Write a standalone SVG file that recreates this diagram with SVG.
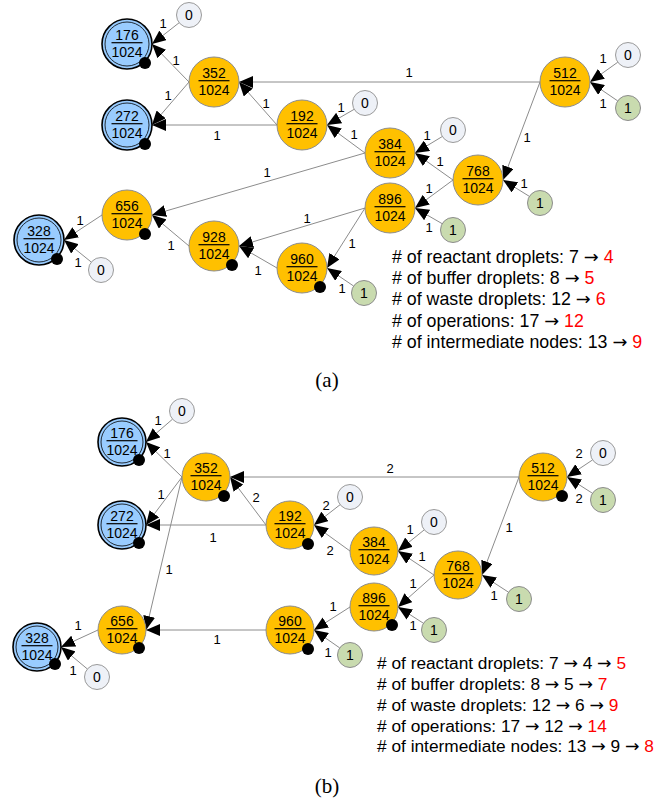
<svg xmlns="http://www.w3.org/2000/svg" width="665" height="802" viewBox="0 0 665 802">
<style>
.e{stroke:#8c8c8c;stroke-width:1;fill:none;marker-end:url(#ah)}
.lb{font-family:"Liberation Sans",Arial,sans-serif;font-size:13px;fill:#000;text-anchor:middle}
.or{fill:#FFC000;stroke:#8c8c8c;stroke-width:1}
.bl{fill:#99CCFF;stroke:#000;stroke-width:1.6}
.bi{fill:none;stroke:#000;stroke-width:0.8}
.z{fill:#EEF1F7;stroke:#9a9a9a;stroke-width:1}
.g{fill:#C9DBAF;stroke:#8c8c8c;stroke-width:1}
.nt{font-family:"Liberation Sans",Arial,sans-serif;font-size:14px;fill:#000;text-anchor:middle}
.fl{stroke:#000;stroke-width:1.2}
.dot{fill:#000}
.ta{font-family:"Liberation Sans",Arial,sans-serif;font-size:17.8px;fill:#000}
.tbb{font-family:"Liberation Sans",Arial,sans-serif;font-size:17.3px;fill:#000}
.ar{font-family:"DejaVu Sans",sans-serif}
.red{fill:#FF0000}
.cap{font-family:"Liberation Serif","Times New Roman",serif;font-size:21px;fill:#000;text-anchor:middle}
</style>
<defs>
<marker id="ah" viewBox="0 0 14 12" refX="14" refY="6" markerWidth="14" markerHeight="12" markerUnits="userSpaceOnUse" orient="auto">
<path d="M0,0 L14,6 L0,12 z" fill="#000"/>
</marker>
</defs>

<!-- ===== (a) connectors ===== -->
<g id="edges-a">
<line class="e" x1="179.2" y1="22.7" x2="152" y2="44"/>
<line class="e" x1="189" y1="82" x2="152" y2="44"/>
<line class="e" x1="189" y1="82" x2="152" y2="125"/>
<line class="e" x1="277" y1="125" x2="152" y2="125"/>
<line class="e" x1="277" y1="125" x2="239" y2="82"/>
<line class="e" x1="540" y1="82" x2="239" y2="82"/>
<line class="e" x1="617.8" y1="62.2" x2="590" y2="82"/>
<line class="e" x1="617.7" y1="100.9" x2="590" y2="82"/>
<line class="e" x1="540" y1="82" x2="503" y2="180"/>
<line class="e" x1="354.2" y1="109.3" x2="327" y2="125"/>
<line class="e" x1="365" y1="153" x2="327" y2="125"/>
<line class="e" x1="442.3" y1="136.5" x2="415" y2="153"/>
<line class="e" x1="453" y1="180" x2="415" y2="153"/>
<line class="e" x1="365" y1="153" x2="152" y2="215"/>
<line class="e" x1="453" y1="180" x2="415" y2="208"/>
<line class="e" x1="529.4" y1="196.4" x2="503" y2="180"/>
<line class="e" x1="442.2" y1="223.7" x2="415" y2="208"/>
<line class="e" x1="365" y1="208" x2="239" y2="246"/>
<line class="e" x1="365" y1="208" x2="327" y2="268"/>
<line class="e" x1="353.6" y1="286" x2="327" y2="268"/>
<line class="e" x1="277" y1="268" x2="239" y2="246"/>
<line class="e" x1="189" y1="246" x2="152" y2="215"/>
<line class="e" x1="102" y1="215" x2="64" y2="240"/>
<line class="e" x1="91.3" y1="262.1" x2="64" y2="240"/>
<g class="lb">
<text x="163" y="27.5">1</text><text x="176" y="64.5">1</text><text x="168" y="99.5">1</text>
<text x="217" y="139.5">1</text><text x="266" y="107.5">1</text><text x="409" y="76.5">1</text>
<text x="603" y="62.5">1</text><text x="603" y="107.5">1</text><text x="527" y="141.5">1</text>
<text x="341" y="111.5">1</text><text x="354" y="138.5">1</text><text x="427" y="139.5">1</text>
<text x="440" y="165.5">1</text><text x="267" y="176.5">1</text><text x="429" y="192.5">1</text>
<text x="524" y="187.5">1</text><text x="429" y="231.5">1</text><text x="307" y="222.5">1</text>
<text x="352" y="247.5">1</text><text x="342" y="292.5">1</text><text x="258" y="274.5">1</text>
<text x="171" y="249.5">1</text><text x="80" y="224.5">1</text><text x="78" y="266.5">1</text>
</g>
</g>

<!-- ===== (a) nodes ===== -->
<g id="a176"><circle class="bl" cx="127" cy="44" r="25"/><circle class="bi" cx="127" cy="44" r="22"/><text class="nt" x="127" y="39.5">176</text><line class="fl" x1="111.5" y1="42.7" x2="142.5" y2="42.7"/><text class="nt" x="127" y="56.7">1024</text><circle class="dot" cx="145" cy="63" r="6"/></g>
<g id="a272"><circle class="bl" cx="127" cy="125" r="25"/><circle class="bi" cx="127" cy="125" r="22"/><text class="nt" x="127" y="120.5">272</text><line class="fl" x1="111.5" y1="123.7" x2="142.5" y2="123.7"/><text class="nt" x="127" y="137.7">1024</text><circle class="dot" cx="145" cy="144" r="6"/></g>
<g id="a328"><circle class="bl" cx="39" cy="240" r="25"/><circle class="bi" cx="39" cy="240" r="22"/><text class="nt" x="39" y="235.5">328</text><line class="fl" x1="23.5" y1="238.7" x2="54.5" y2="238.7"/><text class="nt" x="39" y="252.7">1024</text><circle class="dot" cx="57" cy="259" r="6"/></g>
<g id="a352"><circle class="or" cx="214" cy="82" r="25"/><text class="nt" x="214" y="77.5">352</text><line class="fl" x1="198.5" y1="80.7" x2="229.5" y2="80.7"/><text class="nt" x="214" y="94.7">1024</text></g>
<g id="a192"><circle class="or" cx="302" cy="125" r="25"/><text class="nt" x="302" y="120.5">192</text><line class="fl" x1="286.5" y1="123.7" x2="317.5" y2="123.7"/><text class="nt" x="302" y="137.7">1024</text></g>
<g id="a512"><circle class="or" cx="565" cy="82" r="25"/><text class="nt" x="565" y="77.5">512</text><line class="fl" x1="549.5" y1="80.7" x2="580.5" y2="80.7"/><text class="nt" x="565" y="94.7">1024</text></g>
<g id="a384"><circle class="or" cx="390" cy="153" r="25"/><text class="nt" x="390" y="148.5">384</text><line class="fl" x1="374.5" y1="151.7" x2="405.5" y2="151.7"/><text class="nt" x="390" y="165.7">1024</text></g>
<g id="a768"><circle class="or" cx="478" cy="180" r="25"/><text class="nt" x="478" y="175.5">768</text><line class="fl" x1="462.5" y1="178.7" x2="493.5" y2="178.7"/><text class="nt" x="478" y="192.7">1024</text></g>
<g id="a896"><circle class="or" cx="390" cy="208" r="25"/><text class="nt" x="390" y="203.5">896</text><line class="fl" x1="374.5" y1="206.7" x2="405.5" y2="206.7"/><text class="nt" x="390" y="220.7">1024</text></g>
<g id="a960"><circle class="or" cx="302" cy="268" r="25"/><text class="nt" x="302" y="263.5">960</text><line class="fl" x1="286.5" y1="266.7" x2="317.5" y2="266.7"/><text class="nt" x="302" y="280.7">1024</text><circle class="dot" cx="320" cy="287" r="6"/></g>
<g id="a928"><circle class="or" cx="214" cy="246" r="25"/><text class="nt" x="214" y="241.5">928</text><line class="fl" x1="198.5" y1="244.7" x2="229.5" y2="244.7"/><text class="nt" x="214" y="258.7">1024</text><circle class="dot" cx="232" cy="265" r="6"/></g>
<g id="a656"><circle class="or" cx="127" cy="215" r="25"/><text class="nt" x="127" y="210.5">656</text><line class="fl" x1="111.5" y1="213.7" x2="142.5" y2="213.7"/><text class="nt" x="127" y="227.7">1024</text><circle class="dot" cx="145" cy="234" r="6"/></g>
<g id="a-s1"><circle class="z" cx="189" cy="15" r="12.5"/><text class="nt" x="189" y="20">0</text></g>
<g id="a-s2"><circle class="z" cx="365" cy="103" r="12.5"/><text class="nt" x="365" y="108">0</text></g>
<g id="a-s3"><circle class="z" cx="628" cy="55" r="12.5"/><text class="nt" x="628" y="60">0</text></g>
<g id="a-s4"><circle class="g" cx="628" cy="108" r="12.5"/><text class="nt" x="628" y="113">1</text></g>
<g id="a-s5"><circle class="z" cx="453" cy="130" r="12.5"/><text class="nt" x="453" y="135">0</text></g>
<g id="a-s6"><circle class="g" cx="540" cy="203" r="12.5"/><text class="nt" x="540" y="208">1</text></g>
<g id="a-s7"><circle class="g" cx="453" cy="230" r="12.5"/><text class="nt" x="453" y="235">1</text></g>
<g id="a-s8"><circle class="g" cx="364" cy="293" r="12.5"/><text class="nt" x="364" y="298">1</text></g>
<g id="a-s9"><circle class="z" cx="101" cy="270" r="12.5"/><text class="nt" x="101" y="275">0</text></g>

<g id="stats-a" class="ta">
<text x="392" y="263"># of reactant droplets: 7 <tspan class="ar">→</tspan> <tspan class="red">4</tspan></text>
<text x="392" y="284"># of buffer droplets: 8 <tspan class="ar">→</tspan> <tspan class="red">5</tspan></text>
<text x="392" y="305"># of waste droplets: 12 <tspan class="ar">→</tspan> <tspan class="red">6</tspan></text>
<text x="392" y="327"># of operations: 17 <tspan class="ar">→</tspan> <tspan class="red">12</tspan></text>
<text x="392" y="348"># of intermediate nodes: 13 <tspan class="ar">→</tspan> <tspan class="red">9</tspan></text>
</g>
<text class="cap" x="327" y="387">(a)</text>

<!-- ===== (b) connectors ===== -->
<g id="edges-b">
<line class="e" x1="172.5" y1="419.2" x2="146" y2="442"/>
<line class="e" x1="182" y1="477" x2="146" y2="442"/>
<line class="e" x1="182" y1="477" x2="146" y2="525"/>
<line class="e" x1="182" y1="477" x2="146" y2="630"/>
<line class="e" x1="266" y1="525" x2="146" y2="525"/>
<line class="e" x1="266" y1="525" x2="230" y2="477"/>
<line class="e" x1="519" y1="477" x2="230" y2="477"/>
<line class="e" x1="592.6" y1="459.9" x2="567" y2="477"/>
<line class="e" x1="592.5" y1="493.3" x2="567" y2="477"/>
<line class="e" x1="519" y1="477" x2="482" y2="575"/>
<line class="e" x1="340.1" y1="504.7" x2="314" y2="525"/>
<line class="e" x1="350" y1="551" x2="314" y2="525"/>
<line class="e" x1="424.3" y1="529.8" x2="398" y2="551"/>
<line class="e" x1="434" y1="575" x2="398" y2="551"/>
<line class="e" x1="434" y1="575" x2="398" y2="607"/>
<line class="e" x1="508.5" y1="592.2" x2="482" y2="575"/>
<line class="e" x1="423.5" y1="623.3" x2="398" y2="607"/>
<line class="e" x1="350" y1="607" x2="314" y2="630"/>
<line class="e" x1="339.7" y1="647.9" x2="314" y2="630"/>
<line class="e" x1="266" y1="630" x2="146" y2="630"/>
<line class="e" x1="98" y1="630" x2="61" y2="647"/>
<line class="e" x1="87.4" y1="669" x2="61" y2="647"/>
<g class="lb">
<text x="158" y="424.5">1</text><text x="167" y="457.5">1</text><text x="161" y="498.5">1</text>
<text x="169" y="573.5">1</text><text x="213" y="541.5">1</text><text x="256" y="501.5">2</text>
<text x="390" y="472.5">2</text><text x="579" y="457.5">2</text><text x="579" y="502.5">2</text>
<text x="509" y="531.5">1</text><text x="326" y="509.5">2</text><text x="330" y="554.5">2</text>
<text x="410" y="533.5">1</text><text x="422" y="560.5">1</text><text x="413" y="587.5">1</text>
<text x="494" y="599.5">1</text><text x="413" y="629.5">1</text><text x="333" y="610.5">1</text>
<text x="328" y="656.5">1</text><text x="217" y="643.5">1</text><text x="78" y="629.5">1</text>
<text x="73" y="674.5">1</text>
</g>
</g>

<!-- ===== (b) nodes ===== -->
<g id="b176"><circle class="bl" cx="122" cy="442" r="24"/><circle class="bi" cx="122" cy="442" r="21"/><text class="nt" x="122" y="437.5">176</text><line class="fl" x1="106.5" y1="440.7" x2="137.5" y2="440.7"/><text class="nt" x="122" y="454.7">1024</text><circle class="dot" cx="139" cy="460" r="6"/></g>
<g id="b272"><circle class="bl" cx="122" cy="525" r="24"/><circle class="bi" cx="122" cy="525" r="21"/><text class="nt" x="122" y="520.5">272</text><line class="fl" x1="106.5" y1="523.7" x2="137.5" y2="523.7"/><text class="nt" x="122" y="537.7">1024</text><circle class="dot" cx="139" cy="543" r="6"/></g>
<g id="b328"><circle class="bl" cx="37" cy="647" r="24"/><circle class="bi" cx="37" cy="647" r="21"/><text class="nt" x="37" y="642.5">328</text><line class="fl" x1="21.5" y1="645.7" x2="52.5" y2="645.7"/><text class="nt" x="37" y="659.7">1024</text><circle class="dot" cx="55" cy="664" r="6"/></g>
<g id="b352"><circle class="or" cx="206" cy="477" r="24"/><text class="nt" x="206" y="472.5">352</text><line class="fl" x1="190.5" y1="475.7" x2="221.5" y2="475.7"/><text class="nt" x="206" y="489.7">1024</text><circle class="dot" cx="224" cy="496" r="6"/></g>
<g id="b192"><circle class="or" cx="290" cy="525" r="24"/><text class="nt" x="290" y="520.5">192</text><line class="fl" x1="274.5" y1="523.7" x2="305.5" y2="523.7"/><text class="nt" x="290" y="537.7">1024</text><circle class="dot" cx="308" cy="544" r="6"/></g>
<g id="b512"><circle class="or" cx="543" cy="477" r="24"/><text class="nt" x="543" y="472.5">512</text><line class="fl" x1="527.5" y1="475.7" x2="558.5" y2="475.7"/><text class="nt" x="543" y="489.7">1024</text><circle class="dot" cx="562" cy="496" r="6"/></g>
<g id="b384"><circle class="or" cx="374" cy="551" r="24"/><text class="nt" x="374" y="546.5">384</text><line class="fl" x1="358.5" y1="549.7" x2="389.5" y2="549.7"/><text class="nt" x="374" y="563.7">1024</text></g>
<g id="b768"><circle class="or" cx="458" cy="575" r="24"/><text class="nt" x="458" y="570.5">768</text><line class="fl" x1="442.5" y1="573.7" x2="473.5" y2="573.7"/><text class="nt" x="458" y="587.7">1024</text></g>
<g id="b896"><circle class="or" cx="374" cy="607" r="24"/><text class="nt" x="374" y="602.5">896</text><line class="fl" x1="358.5" y1="605.7" x2="389.5" y2="605.7"/><text class="nt" x="374" y="619.7">1024</text><circle class="dot" cx="392" cy="625" r="6"/></g>
<g id="b960"><circle class="or" cx="290" cy="630" r="24"/><text class="nt" x="290" y="625.5">960</text><line class="fl" x1="274.5" y1="628.7" x2="305.5" y2="628.7"/><text class="nt" x="290" y="642.7">1024</text><circle class="dot" cx="308" cy="649" r="6"/></g>
<g id="b656"><circle class="or" cx="122" cy="630" r="24"/><text class="nt" x="122" y="625.5">656</text><line class="fl" x1="106.5" y1="628.7" x2="137.5" y2="628.7"/><text class="nt" x="122" y="642.7">1024</text><circle class="dot" cx="139" cy="648" r="6"/></g>
<g id="b-s1"><circle class="z" cx="182" cy="411" r="12.5"/><text class="nt" x="182" y="416">0</text></g>
<g id="b-s2"><circle class="z" cx="603" cy="453" r="12.5"/><text class="nt" x="603" y="458">0</text></g>
<g id="b-s3"><circle class="g" cx="603" cy="500" r="12.5"/><text class="nt" x="603" y="505">1</text></g>
<g id="b-s4"><circle class="z" cx="350" cy="497" r="12.5"/><text class="nt" x="350" y="502">0</text></g>
<g id="b-s5"><circle class="z" cx="434" cy="522" r="12.5"/><text class="nt" x="434" y="527">0</text></g>
<g id="b-s6"><circle class="g" cx="519" cy="599" r="12.5"/><text class="nt" x="519" y="604">1</text></g>
<g id="b-s7"><circle class="g" cx="434" cy="630" r="12.5"/><text class="nt" x="434" y="635">1</text></g>
<g id="b-s8"><circle class="g" cx="350" cy="655" r="12.5"/><text class="nt" x="350" y="660">1</text></g>
<g id="b-s9"><circle class="z" cx="97" cy="677" r="12.5"/><text class="nt" x="97" y="682">0</text></g>

<g id="stats-b" class="tbb">
<text x="377" y="669"># of reactant droplets: 7 <tspan class="ar">→</tspan> 4 <tspan class="ar">→</tspan> <tspan class="red">5</tspan></text>
<text x="377" y="690"># of buffer droplets: 8 <tspan class="ar">→</tspan> 5 <tspan class="ar">→</tspan> <tspan class="red">7</tspan></text>
<text x="377" y="711"># of waste droplets: 12 <tspan class="ar">→</tspan> 6 <tspan class="ar">→</tspan> <tspan class="red">9</tspan></text>
<text x="377" y="732"># of operations: 17 <tspan class="ar">→</tspan> 12 <tspan class="ar">→</tspan> <tspan class="red">14</tspan></text>
<text x="377" y="752"># of intermediate nodes: 13 <tspan class="ar">→</tspan> 9 <tspan class="ar">→</tspan> <tspan class="red">8</tspan></text>
</g>
<text class="cap" x="327" y="793">(b)</text>
</svg>
